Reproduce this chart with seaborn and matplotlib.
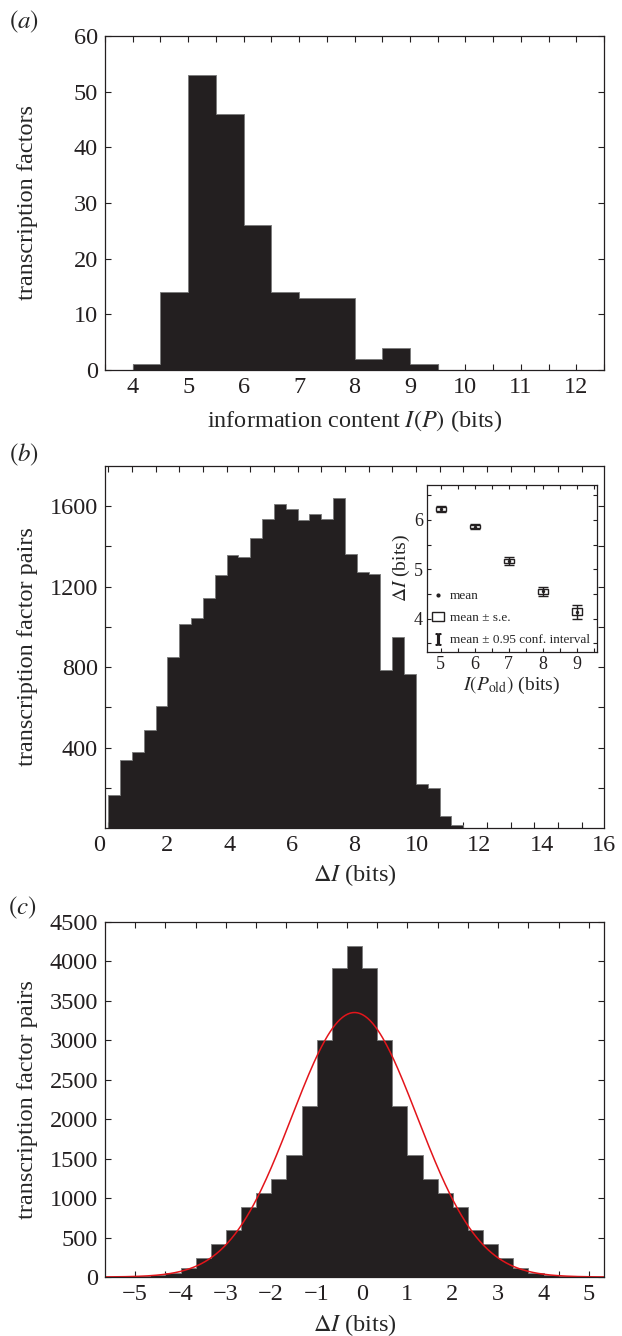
import numpy as np
import pandas as pd
import seaborn as sns
import matplotlib.pyplot as plt
from matplotlib.lines import Line2D
from matplotlib.patches import Rectangle
from matplotlib.ticker import FixedLocator, MultipleLocator

# (a) information content per transcription factor, 0.5-bit bins
a_left = [4.0, 4.5, 5.0, 5.5, 6.0, 6.5, 7.0, 7.5, 8.0, 8.5, 9.0, 9.5, 10.0, 10.5, 11.0, 11.5]
a_counts = [1, 14, 53, 46, 26, 14, 13, 13, 2, 4, 1, 0, 0, 0, 0, 0]
a_width = 0.5

# (b) delta I of transcription factor pairs (30 bins)
b_start = 0.107
b_width = 0.3794
b_counts = [166, 340, 378, 485, 608, 850, 1012, 1042, 1146, 1259, 1358, 1350, 1441, 1535, 1612,
            1585, 1530, 1562, 1537, 1640, 1360, 1274, 1265, 785, 949, 764, 220, 197, 58, 15]

# inset: delta I against I(P_old)
inset_x = [5, 6, 7, 8, 9]
inset_mean = [6.22, 5.86, 5.17, 4.55, 4.14]
inset_se = [0.035, 0.03, 0.045, 0.05, 0.07]
inset_ci = [0.06, 0.05, 0.08, 0.09, 0.14]

# (c) delta I, 1/3-bit bins
c_start = -5.66
c_width = 1 / 3
c_counts = [1, 4, 10, 25, 51, 118, 237, 423, 601, 893, 1067, 1245, 1550, 2165, 3000, 3920,
            4200, 3920, 3000, 2165, 1550, 1245, 1067, 893, 601, 423, 237, 118, 51, 25, 10, 4, 1]

bar_color = "#231f20"
edge_color = "#7a7a7a"
FS = 17.5

sns.set_style("ticks")
plt.rcParams["font.family"] = ["Liberation Serif", "DejaVu Serif"]
plt.rcParams["mathtext.fontset"] = "stix"

fig = plt.figure(figsize=(6.22, 13.36), dpi=100)
W, H = 622, 1336


def add_ax(left, top, right, bottom):
    return fig.add_axes([left / W, 1 - bottom / H, (right - left) / W, (bottom - top) / H])


def style(ax, size=FS, length=4):
    ax.tick_params(which="both", direction="in", top=True, right=True,
                   length=length, width=0.8, labelsize=size, pad=5, colors="#231f20")
    for s in ax.spines.values():
        s.set_linewidth(0.9)
        s.set_color("#231f20")


def hist(ax, left, width, counts):
    left = np.array(left, dtype=float)
    edges = list(np.append(left, left[-1] + width))
    df = pd.DataFrame({"x": left + width / 2, "n": counts})
    sns.histplot(data=df, x="x", weights="n", bins=edges, element="step", fill=True,
                 color=bar_color, alpha=1, edgecolor=edge_color, linewidth=0.6, ax=ax)


# ---- panel a
ax_a = add_ax(105, 36, 604, 370)
hist(ax_a, a_left, a_width, a_counts)
ax_a.set_xlim(3.5, 12.5)
ax_a.set_ylim(0, 60)
ax_a.set_xticks(range(4, 13))
ax_a.xaxis.set_minor_locator(MultipleLocator(0.5))
ax_a.set_yticks(range(0, 61, 10))
style(ax_a)
ax_a.set_xlabel("information content $I(P)$ (bits)", fontsize=FS)
ax_a.set_ylabel("transcription factors", fontsize=FS)
ax_a.xaxis.set_label_coords(0.5, -0.115)
ax_a.yaxis.set_label_coords(-0.135, 0.5)
fig.text(24 / W, 1 - 22 / H, "$(a)$", fontsize=18, ha="center", va="center")

# ---- panel b
ax_b = add_ax(105, 466, 604, 828)
b_left = b_start + b_width * np.arange(len(b_counts))
hist(ax_b, b_left, b_width, b_counts)
ax_b.set_xlim(0, 16)
ax_b.set_ylim(0, 1800)
ax_b.set_xticks(range(0, 17, 2))
ax_b.xaxis.set_minor_locator(FixedLocator(b_start + 2 * b_width * np.arange(21)))
yt = np.arange(200, 1601, 200)
ax_b.set_yticks(yt)
ax_b.set_yticklabels([str(v) if v % 400 == 0 else "" for v in yt])
style(ax_b)
ax_b.tick_params(axis="x", which="major", length=0)
ax_b.get_xticklabels()[0].set_horizontalalignment("right")
ax_b.set_xlabel(r"$\Delta I$ (bits)", fontsize=FS)
ax_b.set_ylabel("transcription factor pairs", fontsize=FS)
ax_b.xaxis.set_label_coords(0.5, -0.095)
ax_b.yaxis.set_label_coords(-0.135, 0.5)
fig.text(24 / W, 1 - 455 / H, "$(b)$", fontsize=18, ha="center", va="center")

# ---- inset
ax_i = add_ax(427, 485, 597, 652)
ax_i.set_facecolor("white")
ax_i.bar(inset_x, [2 * s for s in inset_se], bottom=[m - s for m, s in zip(inset_mean, inset_se)],
         width=0.3, fill=False, edgecolor="#231f20", linewidth=1.0)
ax_i.errorbar(inset_x, inset_mean, yerr=inset_ci, fmt="none", ecolor="#231f20",
              elinewidth=1.0, capsize=3.5, capthick=1.0)
sns.scatterplot(x=inset_x, y=inset_mean, color="#231f20", s=6, linewidth=0, ax=ax_i)
ax_i.set_xlim(4.6, 9.6)
ax_i.set_ylim(3.32, 6.71)
ax_i.set_xticks(inset_x)
ax_i.xaxis.set_minor_locator(MultipleLocator(0.5))
ax_i.set_yticks([4, 5, 6])
ax_i.yaxis.set_minor_locator(MultipleLocator(0.5))
style(ax_i, size=13, length=3)
ax_i.tick_params(pad=3)
ax_i.set_xlabel(r"$I(P_{\rm old})$ (bits)", fontsize=14, labelpad=1)
ax_i.set_ylabel(r"$\Delta I$ (bits)", fontsize=14, labelpad=1)
handles = [
    Line2D([], [], marker=".", color="#231f20", linestyle="none", markersize=4),
    Rectangle((0, 0), 1, 1, facecolor="white", edgecolor="#231f20", linewidth=1.0),
    Line2D([], [], marker=r"$\mathrm{I}$", color="#231f20", linestyle="none", markersize=8),
]
ax_i.legend(handles, ["mean", "mean ± s.e.", "mean ± 0.95 conf. interval"],
            loc="lower left", bbox_to_anchor=(-0.03, -0.03), frameon=False, fontsize=9.5,
            handlelength=0.9, handletextpad=0.4, labelspacing=0.75, borderpad=0.3)

# ---- panel c
ax_c = add_ax(105, 922, 604, 1277)
c_left = c_start + c_width * np.arange(len(c_counts))
hist(ax_c, c_left, c_width, c_counts)

# normal fit to the histogram
centres = c_left + c_width / 2
counts = np.array(c_counts, dtype=float)
total = counts.sum()
mu = (centres * counts).sum() / total
sd = np.sqrt((counts * (centres - mu) ** 2).sum() / total)
xs = np.linspace(c_start, c_start + c_width * len(c_counts), 400)
fit = total * c_width / (sd * np.sqrt(2 * np.pi)) * np.exp(-0.5 * ((xs - mu) / sd) ** 2)
sns.lineplot(x=xs, y=fit, color="#e3151b", linewidth=1.1, ax=ax_c)

ax_c.set_xlim(c_start, c_start + c_width * len(c_counts))
ax_c.set_ylim(0, 4500)
ax_c.set_xticks(range(-5, 6))
ax_c.xaxis.set_minor_locator(FixedLocator(c_start + 2 * c_width * np.arange(1, 17)))
ax_c.set_yticks(range(0, 4501, 500))
style(ax_c)
ax_c.tick_params(axis="x", which="major", length=0)
ax_c.set_xlabel(r"$\Delta I$ (bits)", fontsize=FS)
ax_c.set_ylabel("transcription factor pairs", fontsize=FS)
ax_c.xaxis.set_label_coords(0.5, -0.1)
ax_c.yaxis.set_label_coords(-0.135, 0.5)
fig.text(22 / W, 1 - 908 / H, "$(c)$", fontsize=18, ha="center", va="center")

fig.savefig("out.png", dpi=100)
